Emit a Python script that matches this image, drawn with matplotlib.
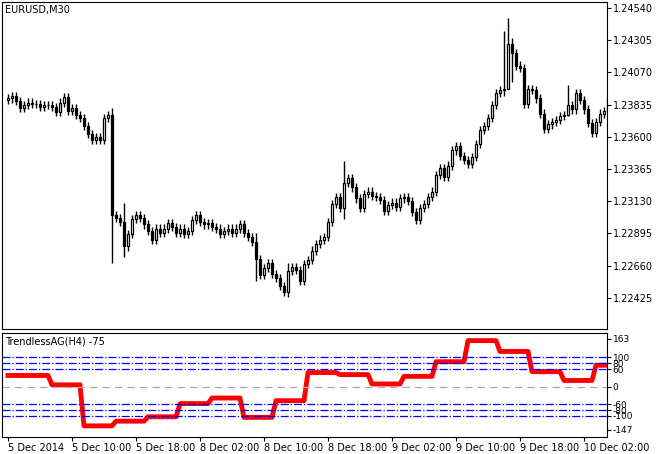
import numpy as np
import matplotlib
matplotlib.use("Agg")
import matplotlib.pyplot as plt
from matplotlib.patches import Rectangle

closes = [1.2388,1.2390,1.2386,1.2381,1.2383,1.2385,
 1.2384,1.2384,1.2382,1.2383,1.2383,1.2382,1.2378,
 1.2385,1.2389,1.2379,1.2381,1.2376,1.2374,1.2368,
 1.2362,1.2358,1.2360,1.2358,1.2374,1.2376,
 1.2303,
 1.2301,1.2298,1.2280,1.2289,1.2300,1.2303,1.2301,
 1.2296,1.2291,1.2285,1.2293,1.2290,1.2293,1.2297,1.2294,1.2290,1.2293,1.2289,1.2291,
 1.2299,1.2303,1.2298,1.2296,1.2297,1.2294,1.2293,1.2289,1.2291,1.2293,1.2290,1.2293,1.2296,
 1.2290,1.2287,1.2283,1.2271,1.2259,1.2264,1.2268,1.2260,1.2257,1.2251,1.2247,1.2262,
 1.2265,1.2263,1.2255,1.2267,1.2270,1.2277,1.2282,1.2285,1.2287,1.2298,1.2311,1.2316,1.2308,1.2326,
 1.2330,1.2323,1.2315,1.2308,1.2318,1.2320,1.2317,1.2316,1.2314,1.2306,1.2310,1.2312,1.2309,1.2315,1.2316,1.2313,
 1.2305,1.2299,1.2308,1.2311,1.2316,1.2320,1.2332,1.2337,1.2331,1.2339,1.2350,1.2353,
 1.2346,1.2343,1.2340,1.2345,1.2355,1.2365,1.2368,1.2374,1.2383,1.2392,1.2394,1.2395,1.2428,
 1.2421,1.2412,1.2410,1.2384,1.2395,1.2394,
 1.2388,1.2377,1.2366,1.2369,1.2371,1.2372,1.2375,1.2376,1.2383,1.2380,1.2392,1.2387,1.2380,1.2370,1.2363,1.2371,1.2377,1.2379,1.2389]
first_open = 1.2387
wick = 0.0003
big_wicks = {26: (1.2381, 1.2268), 29: (1.2312, 1.2272), 62: (1.2290, 1.2255),
             84: (1.2342, 1.2300), 124: (1.2437, 1.2390), 125: (1.2447, 1.2405),
             126: (1.2432, 1.2400), 140: (1.2398, 1.2375), 70: (1.2268, 1.2243)}

ind_vals = [38, 6, -134, -118, -103, -58, -39, -105, -48, 48, 41, 9, 35, 85, 157, 120, 51, 21, 73]
ind_first_len = 11
levels = [100, 80, 60, -60, -80, -100]
sub_ticks = [163, 100, 80, 60, 0, -60, -80, -100, -147]
price_ticks = [1.24540, 1.24305, 1.24070, 1.23835, 1.23600, 1.23365, 1.23130, 1.22895, 1.22660, 1.22425]
time_labels = ["5 Dec 2014", "5 Dec 10:00", "5 Dec 18:00", "8 Dec 02:00", "8 Dec 10:00",
               "8 Dec 18:00", "9 Dec 02:00", "9 Dec 10:00", "9 Dec 18:00", "10 Dec 02:00"]

n = len(closes)
opens = [first_open] + closes[:-1]
W, H = 659, 454
fig = plt.figure(figsize=(W/100, H/100), dpi=100)
ax = fig.add_axes([2/W, 1-329/H, 605/W, 327/H])
sub = fig.add_axes([2/W, 1-437/H, 605/W, 104/H])
xmin, xmax = -1.5, 149.75
for i in range(n):
    o, c = opens[i], closes[i]
    hi, lo = big_wicks.get(i, (max(o, c)+wick, min(o, c)-wick))
    ax.plot([i, i], [lo, hi], color='black', lw=1, solid_capstyle='butt')
    b = min(o, c); h = max(abs(c-o), 0.00003)
    ax.add_patch(Rectangle((i-0.35, b), 0.7, h, facecolor='black' if c < o else 'white',
                           edgecolor='black', lw=0.9, zorder=3))
ax.set_xlim(xmin, xmax)
ax.set_ylim(1.22197, 1.24584)
ax.yaxis.tick_right()
ax.set_yticks(price_ticks)
ax.set_yticklabels([f"{p:.5f}" for p in price_ticks], fontsize=7)
ax.tick_params(axis='y', length=3, pad=1)
ax.set_xticks([])
ax.text(0.005, 0.99, "EURUSD,M30", transform=ax.transAxes, fontsize=7, va='top')

vals = np.concatenate([np.repeat(ind_vals[:1], ind_first_len), np.repeat(ind_vals[1:], 8)])[:n]
sub.plot(np.arange(len(vals)), vals, color='red', lw=3.5, solid_joinstyle='round')
for l in levels:
    sub.axhline(l, color='blue', lw=0.9, ls='-.')
sub.axhline(0, color='#aaaaaa', lw=0.9, ls=(0, (6, 4)))
sub.set_xlim(xmin, xmax)
sub.set_ylim(-172, 183)
sub.yaxis.tick_right()
sub.set_yticks(sub_ticks)
sub.set_yticklabels([str(t) for t in sub_ticks], fontsize=6.5)
sub.tick_params(axis='y', length=3, pad=1)
sub.set_xticks([16*k for k in range(len(time_labels))])
sub.set_xticklabels(time_labels, fontsize=7, ha='left')
sub.tick_params(axis='x', length=3, pad=1)
sub.text(0.005, 0.97, "TrendlessAG(H4) -75", transform=sub.transAxes, fontsize=7, va='top')
fig.savefig("out.png", dpi=100)
